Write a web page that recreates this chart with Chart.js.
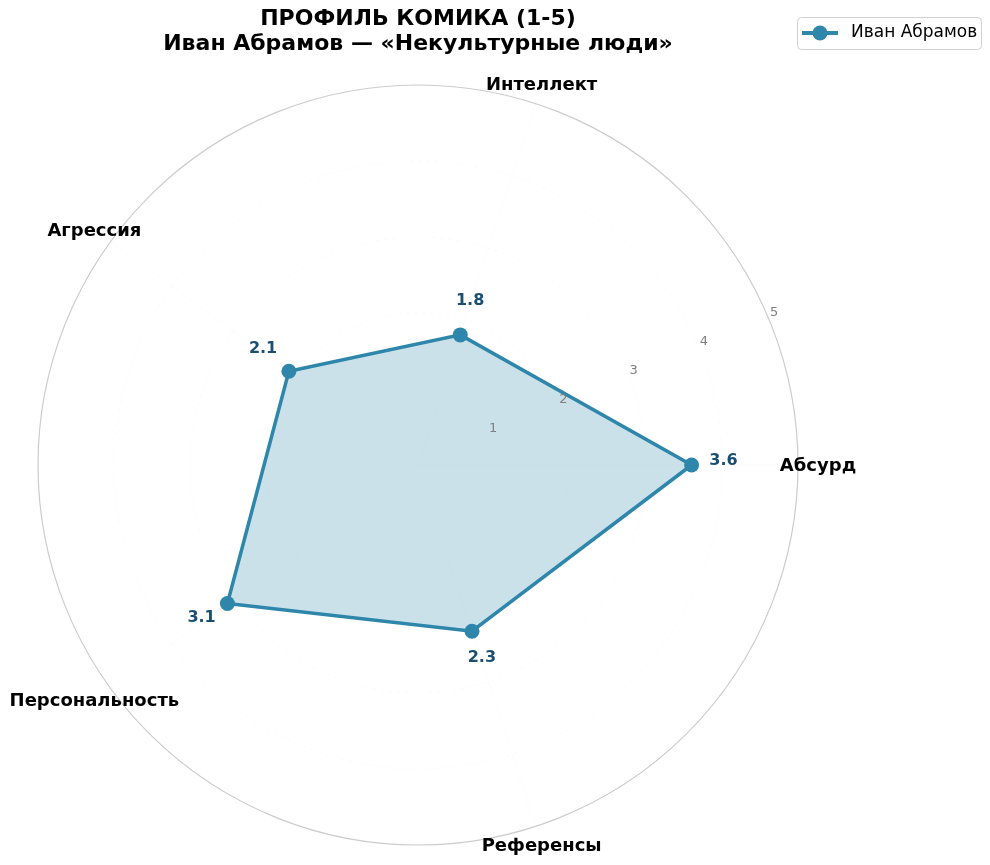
<!DOCTYPE html>
<html>
<head>
<meta charset="utf-8">
<script src="https://cdn.jsdelivr.net/npm/chart.js@4.4.0/dist/chart.umd.min.js"></script>
<style>
  html, body { margin: 0; padding: 0; background: #fff; }
  #wrap { width: 990px; height: 865px; position: relative; }
</style>
</head>
<body>
<div id="wrap"><canvas id="radar"></canvas></div>
<script>
// data (matplotlib order, counterclockwise from the right)
const categories = ['Абсурд', 'Интеллект', 'Агрессия', 'Персональность', 'Референсы'];
const scores = [3.6, 1.8, 2.1, 3.1, 2.3];
const tickValues = [1, 2, 3, 4, 5];
const seriesName = 'Иван Абрамов';
const titleLines = ['ПРОФИЛЬ КОМИКА (1-5)', 'Иван Абрамов — «Некультурные люди»'];

// Chart.js walks clockwise, matplotlib counterclockwise: keep the first one, reverse the rest
const order = [0, 4, 3, 2, 1];
const labels = order.map(i => categories[i]);
const values = order.map(i => scores[i]);

const lineColor = '#2E86AB';
const valueColor = '#1B4F72';
const font = '"DejaVu Sans", sans-serif';

const decorations = {
  id: 'decorations',
  afterDatasetsDraw(chart) {
    const ctx = chart.ctx;
    const scale = chart.scales.r;
    const cx = scale.xCenter, cy = scale.yCenter;
    ctx.save();

    // radial tick labels at 22.5 degrees like matplotlib
    ctx.font = '13px ' + font;
    ctx.fillStyle = '#808080';
    ctx.textAlign = 'center';
    ctx.textBaseline = 'middle';
    const a = -22.5 * Math.PI / 180;
    tickValues.forEach(v => {
      const d = scale.getDistanceFromCenterForValue(v);
      ctx.fillText(String(v), cx + Math.cos(a) * d + 5, cy + Math.sin(a) * d - 7);
    });

    // category labels
    ctx.font = 'bold 18px ' + font;
    ctx.fillStyle = '#000';
    labels.forEach((lab, i) => {
      const p = scale.getPointPosition(i, scale.drawingArea + 20);
      ctx.fillText(lab, p.x, p.y + 1);
    });

    // value labels
    ctx.font = 'bold 16px ' + font;
    ctx.fillStyle = valueColor;
    values.forEach((v, i) => {
      const p = scale.getPointPosition(i, scale.getDistanceFromCenterForValue(v + 0.42));
      ctx.fillText(v.toFixed(1), p.x, p.y - 4);
    });

    // title
    ctx.font = 'bold 22px ' + font;
    ctx.fillStyle = '#000';
    ctx.fillText(titleLines[0], cx, 19);
    ctx.fillText(titleLines[1], cx, 44);

    // legend
    const lx = 797, ly = 17, lw = 184, lh = 32;
    ctx.fillStyle = 'rgba(255,255,255,0.8)';
    ctx.strokeStyle = '#d0d0d0';
    ctx.lineWidth = 1;
    ctx.beginPath();
    ctx.roundRect(lx + 0.5, ly + 0.5, lw, lh, 4);
    ctx.fill();
    ctx.stroke();
    ctx.strokeStyle = lineColor;
    ctx.lineWidth = 4;
    ctx.beginPath();
    ctx.moveTo(802, 33);
    ctx.lineTo(838, 33);
    ctx.stroke();
    ctx.fillStyle = lineColor;
    ctx.beginPath();
    ctx.arc(820, 33, 7.5, 0, Math.PI * 2);
    ctx.fill();
    ctx.font = '17px ' + font;
    ctx.fillStyle = '#000';
    ctx.textAlign = 'left';
    ctx.fillText(seriesName, 851, 33);

    ctx.restore();
  }
};

new Chart(document.getElementById('radar'), {
  type: 'radar',
  data: {
    labels: labels,
    datasets: [{
      label: seriesName,
      data: values,
      borderColor: lineColor,
      backgroundColor: 'rgba(46,134,171,0.25)',
      borderWidth: 3.5,
      fill: true,
      pointRadius: 7.5,
      pointHoverRadius: 7.5,
      pointBackgroundColor: lineColor,
      pointBorderColor: lineColor,
      pointBorderWidth: 0
    }]
  },
  options: {
    responsive: true,
    maintainAspectRatio: false,
    animation: false,
    layout: { padding: { left: 38, right: 192, top: 85, bottom: 20 } },
    plugins: {
      legend: { display: false },
      title: { display: false },
      tooltip: { enabled: false }
    },
    scales: {
      r: {
        min: 0,
        max: 5,
        startAngle: 90,
        ticks: { display: false, stepSize: 1 },
        pointLabels: { display: false },
        angleLines: { color: 'rgba(0,0,0,0.015)', lineWidth: 1 },
        grid: {
          circular: true,
          color: ctx => ctx.tick && ctx.tick.value === 5 ? '#cccccc' : 'rgba(0,0,0,0.018)',
          lineWidth: ctx => ctx.tick && ctx.tick.value === 5 ? 1.2 : 1
        },
        border: {
          dash: ctx => ctx.tick && ctx.tick.value === 5 ? [] : [4, 4]
        }
      }
    }
  },
  plugins: [decorations]
});
</script>
</body>
</html>
